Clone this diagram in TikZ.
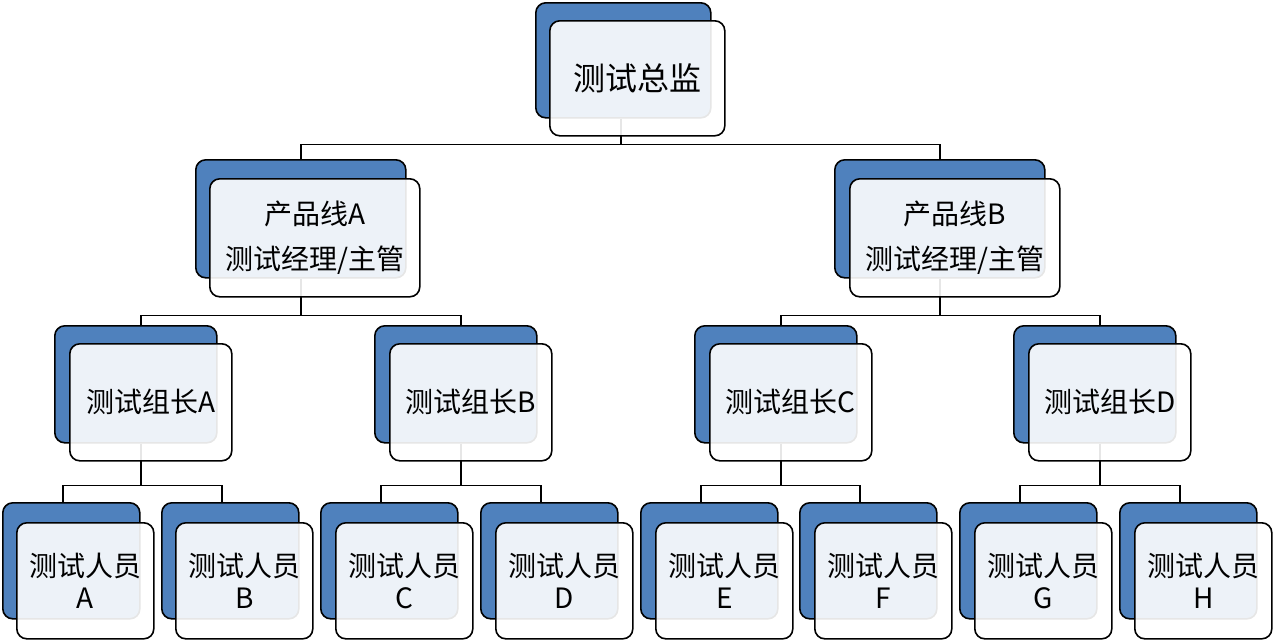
\documentclass[tikz,border=0pt]{standalone}
\usepackage{fontspec}
\setmainfont{Noto Sans CJK SC}
\usetikzlibrary{backgrounds,calc}
\definecolor{blueC}{RGB}{79,129,189}
\tikzset{
  bluebox/.style={draw=black, fill=blueC, line width=1.6pt, rounded corners=10pt, inner sep=0pt, anchor=north west},
  frontbox/.style={draw=black, fill=white, fill opacity=0.9, draw opacity=1, text opacity=1, line width=1.6pt, rounded corners=10pt, inner sep=0pt, align=center, anchor=north west},
  conn/.style={draw=black, line width=1.6pt},
  bigtxt/.style={font=\fontsize{32}{36}\selectfont},
  midtxt/.style={font=\fontsize{28}{32}\selectfont}
}
% name, blue left, blue top, width, height, dx, dy, style, text
\newcommand\orgnode[9]{%
  \node[bluebox, minimum width=#4, minimum height=#5] (#1B) at (#2,-#3) {};
  \node[frontbox, #8, minimum width=#4, minimum height=#5] (#1) at (#2+#6,-#3-#7) {#9};
}
\begin{document}
\begin{tikzpicture}[x=1pt,y=1pt]
\useasboundingbox (0,0) rectangle (1279,-640);
% top
\orgnode{top}{535}{2}{175}{115}{14}{18}{bigtxt}{测试总监}
% level 2
\orgnode{pa}{195}{159}{210}{118}{14}{19}{midtxt}{产品线A\\[13pt]测试经理/主管}
\orgnode{pb}{834}{159}{210}{118}{15}{19}{midtxt}{产品线B\\[13pt]测试经理/主管}
% level 3
\orgnode{ga}{54}{325}{162}{117}{15}{18}{midtxt}{测试组长A}
\orgnode{gb}{374}{325}{162}{117}{15}{18}{midtxt}{测试组长B}
\orgnode{gc}{694}{325}{162}{117}{15}{18}{midtxt}{测试组长C}
\orgnode{gd}{1013}{325}{162}{117}{15}{18}{midtxt}{测试组长D}
% leaves
\orgnode{ra}{2}{502}{137}{116}{14}{20}{midtxt}{测试人员\\A}
\orgnode{rb}{161}{502}{137}{116}{14}{20}{midtxt}{测试人员\\B}
\orgnode{rc}{320}{502}{137}{116}{15}{20}{midtxt}{测试人员\\C}
\orgnode{rd}{480}{502}{137}{116}{15}{20}{midtxt}{测试人员\\D}
\orgnode{re}{640}{502}{137}{116}{15}{20}{midtxt}{测试人员\\E}
\orgnode{rf}{799}{502}{137}{116}{15}{20}{midtxt}{测试人员\\F}
\orgnode{rg}{959}{502}{137}{116}{15}{20}{midtxt}{测试人员\\G}
\orgnode{rh}{1119}{502}{137}{116}{15}{20}{midtxt}{测试人员\\H}
\begin{scope}[on background layer]
\fill[white] (0,0) rectangle (1279,-640);
% top -> level 2
\draw[conn] ($(topB.south west)+(86,0)$) -- ++(0,-26) -| ($(paB.north west)+(106,0)$);
\draw[conn] ($(topB.south west)+(86,0)$) -- ++(0,-26) -| ($(pbB.north west)+(106,0)$);
% level 2 -> level 3
\draw[conn] ($(paB.south west)+(106,0)$) -- ++(0,-37) -| ($(gaB.north west)+(87,0)$);
\draw[conn] ($(paB.south west)+(106,0)$) -- ++(0,-37) -| ($(gbB.north west)+(87,0)$);
\draw[conn] ($(pbB.south west)+(106,0)$) -- ++(0,-37) -| ($(gcB.north west)+(87,0)$);
\draw[conn] ($(pbB.south west)+(106,0)$) -- ++(0,-37) -| ($(gdB.north west)+(87,0)$);
% level 3 -> leaves
\draw[conn] ($(gaB.south west)+(87,0)$) -- ++(0,-42) -| ($(raB.north west)+(61,0)$);
\draw[conn] ($(gaB.south west)+(87,0)$) -- ++(0,-42) -| ($(rbB.north west)+(61,0)$);
\draw[conn] ($(gbB.south west)+(87,0)$) -- ++(0,-42) -| ($(rcB.north west)+(61,0)$);
\draw[conn] ($(gbB.south west)+(87,0)$) -- ++(0,-42) -| ($(rdB.north west)+(61,0)$);
\draw[conn] ($(gcB.south west)+(87,0)$) -- ++(0,-42) -| ($(reB.north west)+(61,0)$);
\draw[conn] ($(gcB.south west)+(87,0)$) -- ++(0,-42) -| ($(rfB.north west)+(61,0)$);
\draw[conn] ($(gdB.south west)+(87,0)$) -- ++(0,-42) -| ($(rgB.north west)+(61,0)$);
\draw[conn] ($(gdB.south west)+(87,0)$) -- ++(0,-42) -| ($(rhB.north west)+(61,0)$);
\end{scope}
\end{tikzpicture}
\end{document}
